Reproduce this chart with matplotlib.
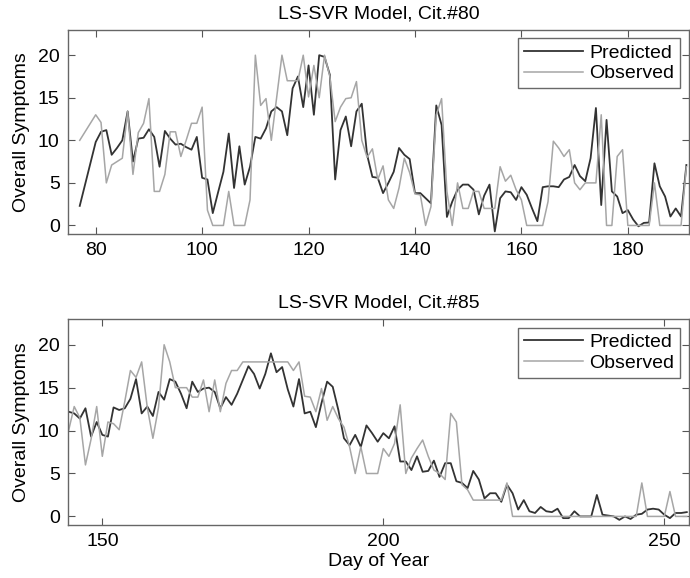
import numpy as np
import matplotlib
matplotlib.use("Agg")
import matplotlib.pyplot as plt

# Citizen #80 (top panel)
days_80 = np.arange(77, 192)
pred_80 = [2.3, 4.8, 7.3, 9.8, 11.0, 11.2, 8.3, 9.1, 10.0, 13.4,
           7.5, 10.2, 10.3, 11.3, 10.4, 6.9, 11.1, 10.2, 9.5, 9.6,
           9.2, 8.9, 10.4, 5.6, 5.4, 1.45, 3.9, 6.3, 10.8, 4.4,
           9.3, 4.8, 6.9, 10.4, 10.2, 11.4, 13.4, 13.9, 13.4, 10.6,
           16.1, 17.5, 13.9, 18.8, 13.0, 20.0, 19.8, 17.7, 5.4, 11.2,
           12.8, 9.3, 13.4, 14.3, 8.3, 5.7, 5.6, 3.8, 5.0, 6.3,
           9.1, 8.3, 7.8, 3.8, 3.8, 3.2, 2.6, 14.1, 11.8, 1.0,
           2.8, 4.2, 4.8, 4.8, 4.2, 1.3, 3.5, 4.8, -0.7, 3.2,
           4.0, 3.9, 3.0, 4.5, 3.6, 2.0, 0.5, 4.5, 4.6, 4.6,
           4.5, 5.4, 5.7, 7.1, 5.8, 5.2, 7.9, 13.8, 2.4, 12.4,
           4.0, 3.4, 1.45, 1.8, 0.7, -0.1, 0.3, 0.35, 7.3, 4.6,
           3.4, 1.05, 2.0, 1.05, 7.1]
obs_80 = [10.0, 11.0, 12.0, 13.0, 12.1, 5.0, 7.1, 7.5, 7.9, 13.4,
          6.0, 10.9, 12.0, 14.9, 4.0, 4.0, 6.0, 11.0, 11.0, 8.1,
          10.0, 12.0, 12.0, 13.9, 1.8, 0, 0, 0, 4.0, 0,
          0, 0, 3.0, 20.0, 14.1, 14.9, 10.0, 15.0, 20.0, 17.0,
          17.0, 17.0, 20.0, 15.1, 18.8, 15.0, 20.0, 17.5, 12.2, 13.9,
          14.9, 15.0, 16.9, 10.0, 8.0, 9.0, 5.4, 7.0, 3.0, 2.0,
          4.4, 7.9, 6.2, 3.7, 3.6, 0, 2.2, 13.0, 14.9, 4.0,
          0, 5.0, 2.0, 2.0, 4.0, 4.0, 2.0, 2.0, 2.0, 6.9,
          5.2, 5.9, 4.2, 3.0, 0, 0, 0, 0, 2.8, 9.9,
          9.1, 8.1, 8.9, 5.0, 4.2, 5.0, 5.0, 5.0, 13.0, 0,
          0, 8.1, 8.9, 0, 0, 0, 0, 0, 5.0, 0,
          0, 0, 0, 0, 6.9]

# Citizen #85 (bottom panel)
days_85 = np.arange(144, 255)
pred_85 = [12.2, 12.0, 11.4, 12.6, 9.3, 11.0, 9.5, 9.3, 12.7, 12.4,
           12.6, 13.7, 16.0, 12.0, 12.8, 11.7, 14.5, 13.6, 16.0, 15.7,
           14.3, 12.6, 15.7, 14.5, 14.9, 15.0, 14.5, 12.6, 13.9, 13.0,
           14.3, 15.9, 17.5, 16.6, 14.9, 16.6, 19.0, 16.8, 17.4, 14.8,
           12.8, 16.0, 12.0, 12.2, 10.4, 13.2, 15.7, 15.1, 12.4, 9.1,
           8.3, 9.5, 8.1, 10.6, 9.7, 8.7, 9.7, 9.1, 10.5, 6.4,
           6.4, 5.4, 7.0, 5.2, 5.3, 6.5, 4.6, 6.2, 6.2, 4.1,
           3.9, 3.3, 5.3, 4.3, 2.1, 2.7, 2.7, 1.7, 3.7, 2.7,
           0.8, 1.9, 0.6, 0.4, 1.1, 0.6, 0.5, 0.9, -0.2, -0.2,
           0.6, 0, 0, 0, 2.5, 0.2, 0.1, 0, -0.4, 0,
           -0.3, 0.2, 0.3, 0.8, 0.9, 0.8, 0.2, -0.2, 0.4, 0.4,
           0.5]
obs_85 = [10.0, 12.8, 11.5, 6.0, 9.0, 12.8, 7.0, 11.0, 10.8, 10.1,
          13.4, 17.0, 16.2, 18.0, 12.7, 9.1, 12.7, 20.0, 18.0, 15.0,
          15.0, 15.0, 13.9, 13.9, 15.9, 12.2, 15.9, 12.2, 15.5, 17.0,
          17.0, 18.0, 18.0, 18.0, 18.0, 18.0, 18.0, 18.0, 18.0, 18.0,
          17.0, 18.0, 14.0, 13.9, 12.2, 14.9, 11.2, 12.8, 11.4, 10.4,
          8.1, 5.0, 8.1, 5.0, 5.0, 5.0, 7.9, 7.0, 8.5, 13.0,
          5.0, 6.8, 7.9, 8.9, 7.0, 5.4, 5.0, 4.3, 12.0, 11.0,
          3.7, 3.1, 1.9, 1.9, 1.9, 1.9, 1.9, 1.9, 3.9, 0,
          0, 0, 0, 0, 0, 0, 0, 0, 0, 0,
          0, 0, 0, 0, 0, 0, 0, 0, 0, 0,
          0, 0, 3.9, 0, 0, 0, 0, 2.9, 0, 0,
          0]

plt.rcParams['font.family'] = ['Liberation Sans', 'DejaVu Sans']
plt.rcParams['font.size'] = 14

DARK = '#333333'
LIGHT = '#a6a6a6'

fig = plt.figure(figsize=(6.9, 5.78), dpi=100)
ax1 = fig.add_axes([0.0986, 0.5952, 0.9, 0.3535])
ax2 = fig.add_axes([0.0986, 0.0917, 0.9, 0.3564])


def draw_panel(ax, days, pred, obs, title, xlim, xticks):
    ax.plot(days, pred, color=DARK, lw=1.3, label='Predicted')
    ax.plot(days, obs, color=LIGHT, lw=1.1, label='Observed')
    ax.set_xlim(*xlim)
    ax.set_ylim(-1, 23)
    ax.set_xticks(xticks)
    ax.set_yticks([0, 5, 10, 15, 20])
    ax.tick_params(direction='in', top=True, right=True, length=5,
                   color='#555555', pad=6)
    for s in ax.spines.values():
        s.set_color('#666666')
        s.set_linewidth(1.0)
    ax.set_title(title, fontsize=14, pad=8)
    ax.set_ylabel('Overall Symptoms', labelpad=6)
    leg = ax.legend(loc='upper right', fancybox=False, handlelength=3.0,
                    borderaxespad=0.45, borderpad=0.3, labelspacing=0.15,
                    handletextpad=0.35)
    leg.get_frame().set_edgecolor('#444444')
    leg.get_frame().set_linewidth(1.0)


draw_panel(ax1, days_80, pred_80, obs_80, 'LS-SVR Model, Cit.#80',
           (74.8, 191.5), [80, 100, 120, 140, 160, 180])
draw_panel(ax2, days_85, pred_85, obs_85, 'LS-SVR Model, Cit.#85',
           (143.9, 254.4), [150, 200, 250])
ax2.set_xlabel('Day of Year', labelpad=2)

fig.savefig('out.png', dpi=100)
